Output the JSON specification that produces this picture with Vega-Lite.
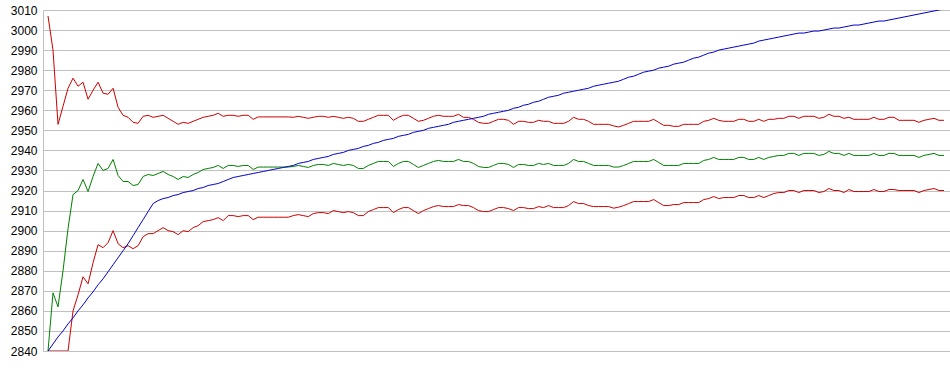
{
  "$schema": "https://vega.github.io/schema/vega-lite/v6.json",
  "width": 907,
  "height": 341,
  "autosize": "none",
  "padding": {"left": 43, "top": 10, "right": 0, "bottom": 24},
  "background": "white",
  "config": {
    "view": {"stroke": null},
    "axis": {"labelFont": "Liberation Sans", "labelFontSize": 12, "labelColor": "#000000"}
  },
  "data": {"values": [
    {"i":0,"b":2840,"g":2840,"u":3007,"l":2840},
    {"i":1,"b":2843.5,"g":2869,"u":2990,"l":2840},
    {"i":2,"b":2847,"g":2862,"u":2953,"l":2840},
    {"i":3,"b":2850,"g":2880,"u":2962,"l":2840},
    {"i":4,"b":2853.5,"g":2901,"u":2971,"l":2840},
    {"i":5,"b":2856.5,"g":2918,"u":2976,"l":2860},
    {"i":6,"b":2860,"g":2920,"u":2972,"l":2868},
    {"i":7,"b":2863,"g":2925.5,"u":2974,"l":2877},
    {"i":8,"b":2866.5,"g":2919.5,"u":2965.5,"l":2873.5},
    {"i":9,"b":2869.5,"g":2927,"u":2970,"l":2884},
    {"i":10,"b":2873,"g":2933.5,"u":2974,"l":2893},
    {"i":11,"b":2876,"g":2930,"u":2968.5,"l":2891.5},
    {"i":12,"b":2879.5,"g":2931,"u":2968,"l":2894},
    {"i":13,"b":2883,"g":2935.5,"u":2971,"l":2900},
    {"i":14,"b":2886.5,"g":2927.5,"u":2961.5,"l":2893.5},
    {"i":15,"b":2890,"g":2924.5,"u":2957.5,"l":2891.5},
    {"i":16,"b":2893.5,"g":2924.5,"u":2956.5,"l":2892.5},
    {"i":17,"b":2897.5,"g":2922.5,"u":2954,"l":2891},
    {"i":18,"b":2901.5,"g":2923,"u":2953.5,"l":2892.5},
    {"i":19,"b":2905.5,"g":2927,"u":2957,"l":2897},
    {"i":20,"b":2909.5,"g":2928,"u":2957.5,"l":2898.5},
    {"i":21,"b":2913.5,"g":2927.5,"u":2956.5,"l":2898.5},
    {"i":22,"b":2915,"g":2928.5,"u":2957,"l":2900},
    {"i":23,"b":2916,"g":2929.5,"u":2957.5,"l":2901.5},
    {"i":24,"b":2916.5,"g":2928,"u":2956,"l":2900},
    {"i":25,"b":2917.5,"g":2927,"u":2954.5,"l":2899.5},
    {"i":26,"b":2918,"g":2925.5,"u":2953,"l":2898},
    {"i":27,"b":2919,"g":2927,"u":2954,"l":2900},
    {"i":28,"b":2919.5,"g":2926.5,"u":2953.5,"l":2899.5},
    {"i":29,"b":2920,"g":2928,"u":2954.5,"l":2901.5},
    {"i":30,"b":2921,"g":2929,"u":2955.5,"l":2902.5},
    {"i":31,"b":2921.5,"g":2930.5,"u":2956.5,"l":2904.5},
    {"i":32,"b":2922.5,"g":2931,"u":2957,"l":2905},
    {"i":33,"b":2923,"g":2931.5,"u":2957.5,"l":2905.5},
    {"i":34,"b":2923.5,"g":2932.5,"u":2958.5,"l":2906.5},
    {"i":35,"b":2924.5,"g":2931,"u":2957,"l":2905},
    {"i":36,"b":2925.5,"g":2932.5,"u":2957.5,"l":2907.5},
    {"i":37,"b":2926.5,"g":2932.5,"u":2957.5,"l":2907.5},
    {"i":38,"b":2927,"g":2932,"u":2957,"l":2907},
    {"i":39,"b":2927.5,"g":2932.5,"u":2957.5,"l":2907.5},
    {"i":40,"b":2928,"g":2932.5,"u":2957.5,"l":2907.5},
    {"i":41,"b":2928.5,"g":2930.5,"u":2955.5,"l":2905.5},
    {"i":42,"b":2929,"g":2931.7,"u":2956.7,"l":2906.7},
    {"i":43,"b":2929.5,"g":2931.7,"u":2956.7,"l":2906.7},
    {"i":44,"b":2930,"g":2931.7,"u":2956.7,"l":2906.7},
    {"i":45,"b":2930.5,"g":2931.7,"u":2956.7,"l":2906.7},
    {"i":46,"b":2931,"g":2931.7,"u":2956.7,"l":2906.7},
    {"i":47,"b":2931.5,"g":2931.7,"u":2956.7,"l":2906.7},
    {"i":48,"b":2932,"g":2931.7,"u":2956.7,"l":2906.7},
    {"i":49,"b":2932.5,"g":2932,"u":2956.5,"l":2907.5},
    {"i":50,"b":2933.5,"g":2932.5,"u":2957,"l":2908},
    {"i":51,"b":2934,"g":2932,"u":2956.5,"l":2907.5},
    {"i":52,"b":2934.5,"g":2931.5,"u":2956,"l":2907},
    {"i":53,"b":2935.5,"g":2932.5,"u":2956.5,"l":2908.5},
    {"i":54,"b":2936,"g":2933,"u":2957,"l":2909},
    {"i":55,"b":2936.5,"g":2933,"u":2957,"l":2909},
    {"i":56,"b":2937,"g":2932.5,"u":2956.5,"l":2908.5},
    {"i":57,"b":2938,"g":2933.5,"u":2957,"l":2910},
    {"i":58,"b":2938.5,"g":2933,"u":2956.5,"l":2909.5},
    {"i":59,"b":2939,"g":2932.5,"u":2956,"l":2909},
    {"i":60,"b":2940,"g":2933,"u":2956.5,"l":2909.5},
    {"i":61,"b":2940.5,"g":2932.5,"u":2956,"l":2909},
    {"i":62,"b":2941,"g":2931,"u":2954.5,"l":2907.5},
    {"i":63,"b":2942,"g":2931,"u":2954.5,"l":2907.5},
    {"i":64,"b":2942.5,"g":2932.5,"u":2955.5,"l":2909.5},
    {"i":65,"b":2943.5,"g":2933.5,"u":2956.5,"l":2910.5},
    {"i":66,"b":2944,"g":2934.5,"u":2957.5,"l":2911.5},
    {"i":67,"b":2945,"g":2934.5,"u":2957.5,"l":2911.5},
    {"i":68,"b":2945.5,"g":2934.5,"u":2957.5,"l":2911.5},
    {"i":69,"b":2946,"g":2932,"u":2955,"l":2909},
    {"i":70,"b":2947,"g":2933.5,"u":2956.5,"l":2910.5},
    {"i":71,"b":2947.5,"g":2934.5,"u":2957.5,"l":2911.5},
    {"i":72,"b":2948,"g":2934.5,"u":2957.5,"l":2911.5},
    {"i":73,"b":2949,"g":2933,"u":2956,"l":2910},
    {"i":74,"b":2949.5,"g":2931.5,"u":2954.5,"l":2908.5},
    {"i":75,"b":2950,"g":2932.5,"u":2955,"l":2910},
    {"i":76,"b":2951,"g":2933.5,"u":2956,"l":2911},
    {"i":77,"b":2951.5,"g":2934.5,"u":2957,"l":2912},
    {"i":78,"b":2952,"g":2935,"u":2957.5,"l":2912.5},
    {"i":79,"b":2952.5,"g":2934.5,"u":2957,"l":2912},
    {"i":80,"b":2953,"g":2934.5,"u":2957,"l":2912},
    {"i":81,"b":2954,"g":2934.5,"u":2957,"l":2912},
    {"i":82,"b":2954.5,"g":2935.5,"u":2958,"l":2913},
    {"i":83,"b":2955,"g":2934.5,"u":2956.5,"l":2912.5},
    {"i":84,"b":2955.5,"g":2934.5,"u":2956.5,"l":2912.5},
    {"i":85,"b":2956,"g":2933.5,"u":2955.5,"l":2911.5},
    {"i":86,"b":2956.5,"g":2932,"u":2954,"l":2910},
    {"i":87,"b":2957,"g":2931.5,"u":2953.5,"l":2909.5},
    {"i":88,"b":2958,"g":2931.5,"u":2953.5,"l":2909.5},
    {"i":89,"b":2958.5,"g":2932.5,"u":2954.5,"l":2910.5},
    {"i":90,"b":2959,"g":2933.5,"u":2955.5,"l":2911.5},
    {"i":91,"b":2959.5,"g":2933.5,"u":2955.5,"l":2911.5},
    {"i":92,"b":2960,"g":2933,"u":2955,"l":2911},
    {"i":93,"b":2961,"g":2931.5,"u":2953,"l":2910},
    {"i":94,"b":2961.5,"g":2933,"u":2954.5,"l":2911.5},
    {"i":95,"b":2962.5,"g":2933,"u":2954.5,"l":2911.5},
    {"i":96,"b":2963,"g":2932.5,"u":2954,"l":2911},
    {"i":97,"b":2964,"g":2932.5,"u":2954,"l":2911},
    {"i":98,"b":2964.5,"g":2933.5,"u":2955,"l":2912},
    {"i":99,"b":2965.5,"g":2933,"u":2954.5,"l":2911.5},
    {"i":100,"b":2966.5,"g":2933.5,"u":2954.5,"l":2912.5},
    {"i":101,"b":2967,"g":2932.5,"u":2953.5,"l":2911.5},
    {"i":102,"b":2967.5,"g":2932.5,"u":2953.5,"l":2911.5},
    {"i":103,"b":2968.5,"g":2932.5,"u":2953.5,"l":2911.5},
    {"i":104,"b":2969,"g":2933.5,"u":2954.5,"l":2912.5},
    {"i":105,"b":2969.5,"g":2935.5,"u":2956.5,"l":2914.5},
    {"i":106,"b":2970,"g":2934.5,"u":2955.5,"l":2913.5},
    {"i":107,"b":2970.5,"g":2934.5,"u":2955.5,"l":2913.5},
    {"i":108,"b":2971,"g":2933.5,"u":2954.5,"l":2912.5},
    {"i":109,"b":2972,"g":2932.5,"u":2953,"l":2912},
    {"i":110,"b":2972.5,"g":2932.5,"u":2953,"l":2912},
    {"i":111,"b":2973,"g":2932.5,"u":2953,"l":2912},
    {"i":112,"b":2973.5,"g":2932.5,"u":2953,"l":2912},
    {"i":113,"b":2974,"g":2931.7,"u":2952.2,"l":2911.2},
    {"i":114,"b":2974.5,"g":2931.7,"u":2951.7,"l":2911.7},
    {"i":115,"b":2975.5,"g":2932.5,"u":2952.5,"l":2912.5},
    {"i":116,"b":2976.5,"g":2933.5,"u":2953.5,"l":2913.5},
    {"i":117,"b":2977,"g":2934.5,"u":2954.5,"l":2914.5},
    {"i":118,"b":2978,"g":2934.5,"u":2954.5,"l":2914.5},
    {"i":119,"b":2979,"g":2934.5,"u":2954.5,"l":2914.5},
    {"i":120,"b":2979.5,"g":2934.5,"u":2954.5,"l":2914.5},
    {"i":121,"b":2980,"g":2935.5,"u":2955.5,"l":2915.5},
    {"i":122,"b":2981,"g":2934,"u":2954,"l":2914},
    {"i":123,"b":2981.5,"g":2932.5,"u":2952.5,"l":2912.5},
    {"i":124,"b":2982,"g":2932.5,"u":2952.5,"l":2912.5},
    {"i":125,"b":2983,"g":2932.5,"u":2952,"l":2913},
    {"i":126,"b":2983.5,"g":2932.5,"u":2952,"l":2913},
    {"i":127,"b":2984,"g":2933.5,"u":2953,"l":2914},
    {"i":128,"b":2985,"g":2933.5,"u":2953,"l":2914},
    {"i":129,"b":2986,"g":2933.5,"u":2953,"l":2914},
    {"i":130,"b":2986.5,"g":2933.5,"u":2953,"l":2914},
    {"i":131,"b":2987.5,"g":2935,"u":2954.5,"l":2915.5},
    {"i":132,"b":2988.5,"g":2935.5,"u":2955,"l":2916},
    {"i":133,"b":2989,"g":2936.5,"u":2956,"l":2917},
    {"i":134,"b":2990,"g":2935.5,"u":2955,"l":2916},
    {"i":135,"b":2990.5,"g":2935.5,"u":2954.5,"l":2916.5},
    {"i":136,"b":2991,"g":2935.5,"u":2954.5,"l":2916.5},
    {"i":137,"b":2991.5,"g":2935.5,"u":2954.5,"l":2916.5},
    {"i":138,"b":2992,"g":2936.5,"u":2955.5,"l":2917.5},
    {"i":139,"b":2992.5,"g":2936.5,"u":2955.5,"l":2917.5},
    {"i":140,"b":2993,"g":2935.5,"u":2954.5,"l":2916.5},
    {"i":141,"b":2993.5,"g":2935.5,"u":2954.5,"l":2916.5},
    {"i":142,"b":2994.5,"g":2936.5,"u":2955.5,"l":2917.5},
    {"i":143,"b":2995,"g":2935.5,"u":2954.5,"l":2916.5},
    {"i":144,"b":2995.5,"g":2936.5,"u":2955.5,"l":2917.5},
    {"i":145,"b":2996,"g":2937,"u":2955.5,"l":2918.5},
    {"i":146,"b":2996.5,"g":2937.5,"u":2956,"l":2919},
    {"i":147,"b":2997,"g":2937.5,"u":2956,"l":2919},
    {"i":148,"b":2997.5,"g":2938.5,"u":2957,"l":2920},
    {"i":149,"b":2998,"g":2938.5,"u":2957,"l":2920},
    {"i":150,"b":2998.5,"g":2937.5,"u":2956,"l":2919},
    {"i":151,"b":2998.5,"g":2938.5,"u":2957,"l":2920},
    {"i":152,"b":2999,"g":2938.5,"u":2957,"l":2920},
    {"i":153,"b":2999.5,"g":2938.5,"u":2957,"l":2920},
    {"i":154,"b":2999.5,"g":2937.5,"u":2956,"l":2919},
    {"i":155,"b":3000,"g":2938,"u":2956.5,"l":2919.5},
    {"i":156,"b":3000.5,"g":2939.5,"u":2958,"l":2921},
    {"i":157,"b":3001,"g":2938.5,"u":2957,"l":2920},
    {"i":158,"b":3001,"g":2938.5,"u":2957,"l":2920},
    {"i":159,"b":3001.5,"g":2937.5,"u":2956,"l":2919},
    {"i":160,"b":3002,"g":2938.5,"u":2956.5,"l":2920.5},
    {"i":161,"b":3002.5,"g":2937.5,"u":2955.5,"l":2919.5},
    {"i":162,"b":3002.5,"g":2937.5,"u":2955.5,"l":2919.5},
    {"i":163,"b":3003,"g":2937.5,"u":2955.5,"l":2919.5},
    {"i":164,"b":3003.5,"g":2937.5,"u":2955.5,"l":2919.5},
    {"i":165,"b":3004,"g":2938.5,"u":2956.5,"l":2920.5},
    {"i":166,"b":3004.5,"g":2937.5,"u":2955.5,"l":2919.5},
    {"i":167,"b":3004.5,"g":2937.5,"u":2955.5,"l":2919.5},
    {"i":168,"b":3005,"g":2938.5,"u":2956.5,"l":2920.5},
    {"i":169,"b":3005.5,"g":2938.5,"u":2956.5,"l":2920.5},
    {"i":170,"b":3006,"g":2937.5,"u":2955,"l":2920},
    {"i":171,"b":3006.5,"g":2937.5,"u":2955,"l":2920},
    {"i":172,"b":3007,"g":2937.5,"u":2955,"l":2920},
    {"i":173,"b":3007.5,"g":2937.5,"u":2955,"l":2920},
    {"i":174,"b":3008,"g":2936.5,"u":2954,"l":2919},
    {"i":175,"b":3008.5,"g":2937.5,"u":2955,"l":2920},
    {"i":176,"b":3009,"g":2938,"u":2955.5,"l":2920.5},
    {"i":177,"b":3009.5,"g":2938.5,"u":2956,"l":2921},
    {"i":178,"b":3010,"g":2937.5,"u":2955,"l":2920},
    {"i":179,"b":3010.5,"g":2937.5,"u":2955,"l":2920}
  ]},
  "transform": [{"fold": ["g", "u", "l", "b"], "as": ["series", "v"]}],
  "mark": {"type": "line", "strokeWidth": 1, "clip": true},
  "encoding": {
    "x": {"field": "i", "type": "quantitative", "scale": {"domain": [-1, 180.2], "nice": false, "zero": false}, "axis": null},
    "y": {"field": "v", "type": "quantitative",
      "scale": {"domain": [2840, 3010], "nice": false, "zero": false},
      "axis": {"title": null, "values": [2840,2850,2860,2870,2880,2890,2900,2910,2920,2930,2940,2950,2960,2970,2980,2990,3000,3010],
        "grid": true, "gridColor": "#c0c0c0", "gridOpacity": 1, "gridWidth": 1,
        "domain": true, "domainColor": "#c0c0c0", "ticks": false, "tickSize": 0, "labelPadding": 6,
        "labelOverlap": false, "labelBound": false, "labelFlush": false,
        "labelFontSize": 12, "labelColor": "#000000", "format": "d"}},
    "color": {"field": "series", "type": "nominal",
      "scale": {"domain": ["g", "u", "l", "b"], "range": ["#008000", "#cc0000", "#cc0000", "#0000cc"]},
      "legend": null},
    "order": {"field": "i", "type": "quantitative"}
  }
}
